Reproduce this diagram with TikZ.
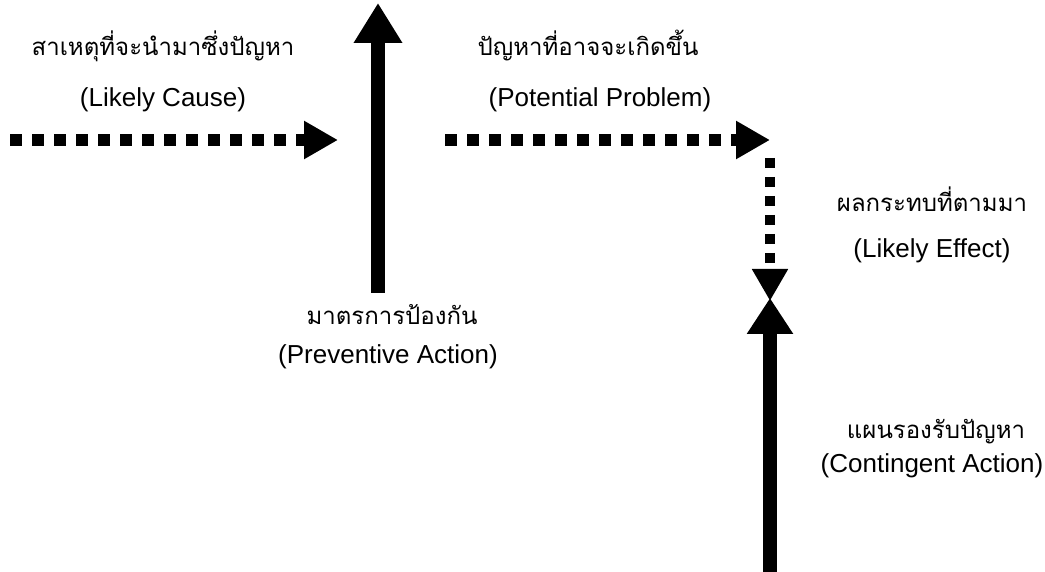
\documentclass[tikz,border=0pt]{standalone}
\usepackage{fontspec}
\setmainfont{Liberation Sans}
\newfontfamily\thaifont[Script=Thai]{Loma}
\usetikzlibrary{arrows.meta}

\tikzset{
	thlabel/.style={font=\thaifont\fontsize{24}{28}\selectfont, inner sep=0pt, anchor=base},
	enlabel/.style={font=\fontsize{26}{30}\selectfont, inner sep=0pt, anchor=base},
	dotarrow/.style={line width=12pt, dash pattern=on 12pt off 10pt, -{Triangle[length=34pt, width=36pt]}},
	solidarrow/.style={line width=14pt, -{Triangle[length=40pt, width=46pt]}}
}

\begin{document}
\begin{tikzpicture}[x=1pt, y=-1pt]
	\useasboundingbox (0,0) rectangle (1045,572);

	% labels
	\node[thlabel] (causeTh) at (163,56) {สาเหตุที่จะนำมาซึ่งปัญหา};
	\node[enlabel] (causeEn) at (163,107) {(Likely Cause)};
	\node[thlabel] (problemTh) at (588,56) {ปัญหาที่อาจจะเกิดขึ้น};
	\node[enlabel] (problemEn) at (600,107) {(Potential Problem)};
	\node[thlabel] (effectTh) at (932,212) {ผลกระทบที่ตามมา};
	\node[enlabel] (effectEn) at (932,258) {(Likely Effect)};
	\node[thlabel] (preventTh) at (392,325) {มาตรการป้องกัน};
	\node[enlabel] (preventEn) at (388,363) {(Preventive Action)};
	\node[thlabel] (contingentTh) at (936,438) {แผนรองรับปัญหา};
	\node[enlabel] (contingentEn) at (932,472) {(Contingent Action)};

	% arrow ends
	\coordinate (causeStart) at (10,140);
	\coordinate (causeEnd) at (338,140);
	\coordinate (problemStart) at (445,140);
	\coordinate (problemEnd) at (770,140);
	\coordinate (effectStart) at (770,158);
	\coordinate (effectEnd) at (770,301);
	\coordinate (preventStart) at (378,293);
	\coordinate (preventEnd) at (378,3);
	\coordinate (contingentStart) at (770,572);
	\coordinate (contingentEnd) at (770,298);

	\draw[dotarrow] (causeStart) -- (causeEnd);
	\draw[dotarrow] (problemStart) -- (problemEnd);
	\draw[dotarrow, line width=10pt, dash pattern=on 10pt off 9pt, -{Triangle[length=32pt, width=34pt]}] (effectStart) -- (effectEnd);

	\draw[solidarrow] (preventStart) -- (preventEnd);
	\draw[solidarrow, -{Triangle[length=36pt, width=44pt]}] (contingentStart) -- (contingentEnd);

\end{tikzpicture}
\end{document}
